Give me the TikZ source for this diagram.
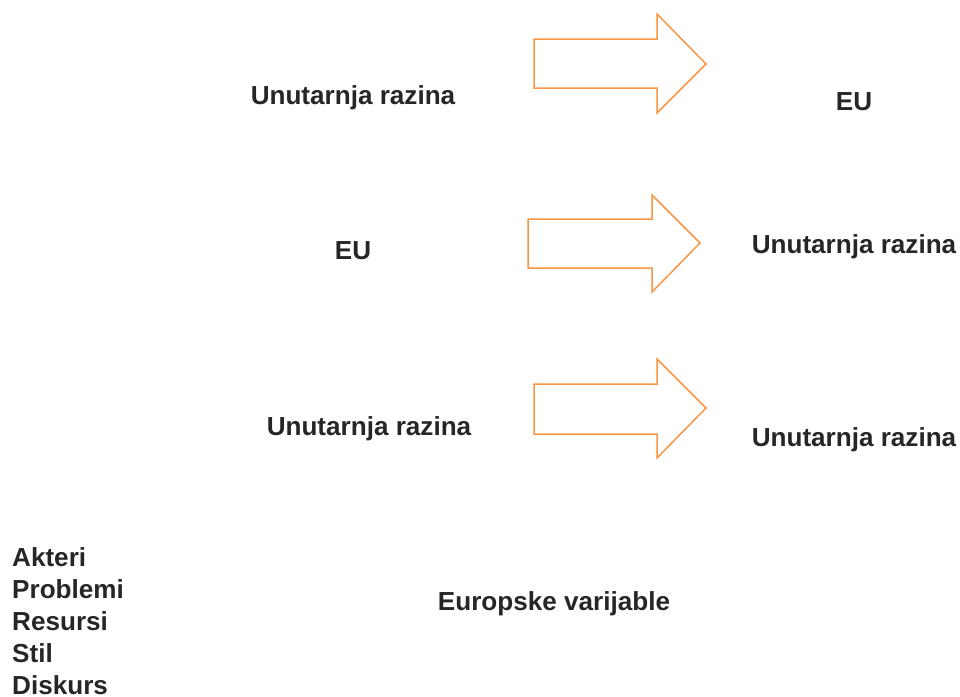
\documentclass[tikz,border=0pt]{standalone}
\usepackage{fontspec}
\setmainfont{Liberation Sans}
\begin{document}
\begin{tikzpicture}[x=1pt,y=-1pt,
  lbl/.style={font=\fontsize{26.1}{30}\selectfont\bfseries, text=txt, inner sep=0pt, anchor=center},
  blockarrow/.style={draw=arr, line width=1.5pt, line join=miter}]
\definecolor{arr}{HTML}{F79646}
\definecolor{txt}{HTML}{262626}
\useasboundingbox (0,0) rectangle (960,696);
% arrows
\draw[blockarrow] (534,39) -- (657,39) -- (657,14) -- (706,64) -- (657,113) -- (657,88) -- (534,88) -- cycle;
\draw[blockarrow] (528,219) -- (652,219) -- (652,195) -- (700,243) -- (652,292) -- (652,268) -- (528,268) -- cycle;
\draw[blockarrow] (534,384) -- (657,384) -- (657,359) -- (706,408) -- (657,458) -- (657,434) -- (534,434) -- cycle;
% labels
\node[lbl] (l1) at (353,98) {Unutarnja razina};
\node[lbl] (r1) at (854,102) {EU};
\node[lbl] (l2) at (353,251) {EU};
\node[lbl] (r2) at (854,247) {Unutarnja razina};
\node[lbl] (l3) at (369,429) {Unutarnja razina};
\node[lbl] (r3) at (854,440) {Unutarnja razina};
\node[lbl] (ev) at (554,604) {Europske varijable};
\node[lbl, anchor=north west, align=left, font=\fontsize{26.1}{32}\selectfont\bfseries] (list) at (12,547) {Akteri\\Problemi\\Resursi\\Stil\\Diskurs};
\end{tikzpicture}
\end{document}
